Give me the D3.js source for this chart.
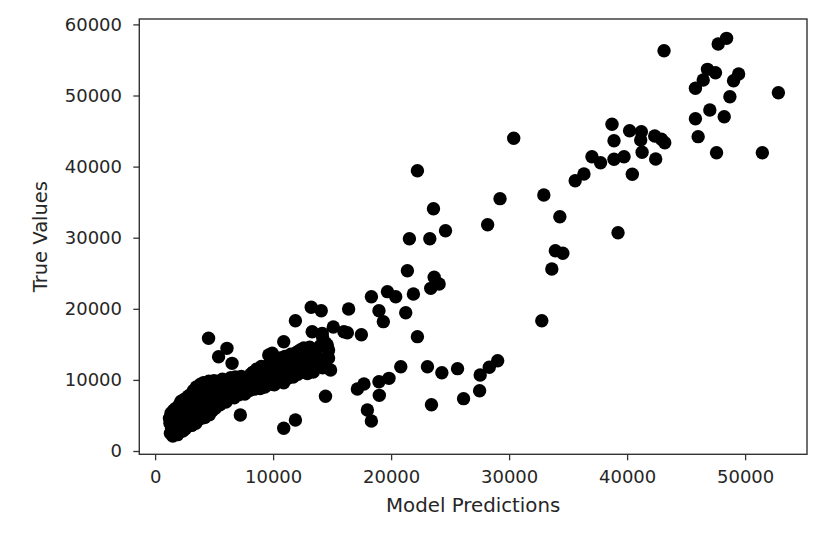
<!DOCTYPE html>
<html><head><meta charset="utf-8">
<script src="https://cdn.jsdelivr.net/npm/d3@7"></script>
<style>html,body{margin:0;padding:0;background:#fff;} text{font-family:"DejaVu Sans",sans-serif;}</style>
</head><body><svg id="chart" width="840" height="546"></svg>
<script>
const xTicks = [0, 10000, 20000, 30000, 40000, 50000];
const yTicks = [0, 10000, 20000, 30000, 40000, 50000, 60000];
const xDomain = [-1340, 55245];
const yDomain = [-464, 60760];
const xLabel = "Model Predictions";
const yLabel = "True Values";

// dense low cluster [prediction, true value]
const clusterPoints = [
[1220,4600],[1260,3900],[1300,2500],[1350,5300],[1400,3200],[1450,4300],[1500,2100],[1550,5700],[1600,3600],[1650,2600],[1700,4900],[1750,6000],[1800,3100],[1850,4200],[1900,2300],[1950,5400],[2000,3800],
[2050,6500],[2100,2700],[2150,4700],[2200,7000],[2250,3400],[2300,5600],[2350,2800],[2400,6200],[2450,4100],[2500,7300],[2550,3100],[2600,5200],[2650,6800],[2700,3600],[2750,4500],[2800,7700],[2850,5800],[2900,3800],[2950,6600],
[3000,4900],[3050,8000],[3100,3600],[3150,6900],[3200,5500],[3250,8500],[3300,4200],[3350,7400],[3400,6100],[3450,3900],[3500,9000],[3550,5000],[3600,7800],[3650,4400],[3700,6700],[3750,8800],[3800,5600],[3850,9400],[3900,4600],[3950,7200],
[4000,8300],[4050,5300],[4100,9600],[4150,6400],[4200,4700],[4250,7700],[4300,9000],[4350,5600],[4400,8600],[4450,6900],[4550,9800],[4600,5100],[4650,7400],[4700,8800],[4750,6200],[4800,9500],[4850,5700],[4900,8100],[4950,7000],
[5000,9900],[5100,6000],[5200,8500],[5300,7100],[5400,9600],[5500,6500],[5600,8000],[5700,10100],[5800,7300],[5900,9000],[6000,6900],
[6100,9700],[6200,7600],[6300,8900],[6400,10300],[6500,8100],[6600,9400],[6700,7500],[6800,10400],[6900,8600],[7000,9900],[7100,7900],[7200,9100],[7300,10500],[7400,8400],[7500,9600],[7600,8000],[7700,10200],[7800,8900],[7900,9700],
[8000,8500],[8100,10800],[8200,9300],[8300,11100],[8400,8700],[8500,10000],[8600,11500],[8700,9200],[8800,10600],[8900,8800],[9000,11900],[9100,9900],[9200,10900],[9300,9000],[9400,11600],[9500,10300],[9600,12100],[9700,9400],[9800,11200],[9900,10000],
[10000,12400],[10100,9300],[10200,11000],[10300,12800],[10400,9800],[10500,11500],[10600,13100],[10700,10300],[10800,12000],[10900,9600],[11000,13300],[11100,11200],[11200,10200],[11300,12600],[11400,10900],[11500,13600],[11600,11700],[11700,10400],[11800,12900],[11900,11400],
[12000,13900],[12100,10800],[12200,12300],[12300,14200],[12400,11300],[12500,12900],[12600,14500],[12700,11600],[12800,13500],[12900,10900],[13000,12700],[13100,14600],[13200,11900],[13300,13300],[13400,11100],[13600,14100],[13800,12400],[14000,14800],[14200,11700],[14400,13000],
[14190,16030],[14440,15190],[14700,14210],[14700,13080],[14870,11390]
];

// scattered points around the cluster and the lower branch
const spreadPoints = [
[4530,15850],[6090,14440],[5380,13260],[6520,12330],[7220,5060],[9630,13500],[9920,13740],[10900,15370],[10900,3190],[11890,4360],
[11890,18330],[13230,20210],[14080,19730],[16400,19970],[15100,17440],[13310,16780],[14160,16550],[16000,16780],[14590,14910],[14440,7700],
[18970,19730],[21240,19450],[19340,18190],[16290,16640],[17480,16360],[22230,16080],
[20820,11860],[19820,10220],[18970,9750],[17700,9420],[17140,8720],[19000,7830],[17990,5770],[18330,4220],
[23080,11860],[24300,11010],[25630,11580],[27550,10690],[28320,11770],[29030,12700],[27500,8480],[26140,7360],[23420,6510]
];

// middle group
const midPoints = [
[22230,39420],[23590,34080],[29230,35490],[28180,31830],[24610,30980],[23280,29860],[21550,29860],[21380,25360],[23650,24430],[24070,23490],[23360,22880],[21890,22080],[19690,22410],[20390,21700],[18330,21700]
];

// upper group
const highPoints = [
[30390,43980],[43130,56300],[47720,57240],[48430,58040],[46810,53680],[47490,53210],[46450,52180],[45790,51010],[49450,53020],[49020,52080],[48710,49830],[52820,50390],[47010,47960],[45790,46740],[48230,47020],[46020,44210],[47580,41950],[51460,41950],
[42340,44300],[42910,43840],[43190,43360],[41210,44910],[40210,45050],[41150,43740],[41270,42010],[42420,41070],[38720,45950],[38890,43640],[40440,38920],[37020,41390],[37750,40550],[38890,41030],[39740,41390],[35600,38020],[36340,38960],
[39230,30700],[32940,36010],[34300,32950],[33920,28170],[34550,27810],[33620,25600],[32770,18330]
];

const W = 840, H = 546;
const m = {left: 139.3, right: 807, top: 19, bottom: 454.3};
const svg = d3.select("#chart");
const x = d3.scaleLinear().domain(xDomain).range([m.left, m.right]);
const y = d3.scaleLinear().domain(yDomain).range([m.bottom, m.top]);

const all = [].concat(clusterPoints, spreadPoints, midPoints, highPoints);
svg.append("g").selectAll("circle").data(all).join("circle")
  .attr("cx", d => x(d[0])).attr("cy", d => y(d[1])).attr("r", 6.7).attr("fill", "#000");

const fmt = d3.format("d");
const gx = svg.append("g").attr("transform", `translate(0,${m.bottom})`)
  .call(d3.axisBottom(x).tickValues(xTicks).tickFormat(fmt).tickSize(6).tickPadding(10.4));
const gy = svg.append("g").attr("transform", `translate(${m.left},0)`)
  .call(d3.axisLeft(y).tickValues(yTicks).tickFormat(fmt).tickSize(6).tickPadding(11.3));
[gx, gy].forEach(g => {
  g.select(".domain").remove();
  g.selectAll("line").attr("stroke", "#333").attr("stroke-width", 1.3);
  g.selectAll("text").attr("fill", "#262626").style("font-size", "18px").style("font-family", "DejaVu Sans");
});

svg.append("rect").attr("x", m.left).attr("y", m.top)
  .attr("width", m.right - m.left).attr("height", m.bottom - m.top)
  .attr("fill", "none").attr("stroke", "#333").attr("stroke-width", 1.4);

svg.append("text").attr("x", (m.left + m.right) / 2).attr("y", 512)
  .attr("text-anchor", "middle").attr("fill", "#262626").style("font-size", "19.8px").text(xLabel);
svg.append("text").attr("transform", `translate(47,${(m.top + m.bottom) / 2}) rotate(-90)`)
  .attr("text-anchor", "middle").attr("fill", "#262626").style("font-size", "19.5px").text(yLabel);
</script></body></html>
